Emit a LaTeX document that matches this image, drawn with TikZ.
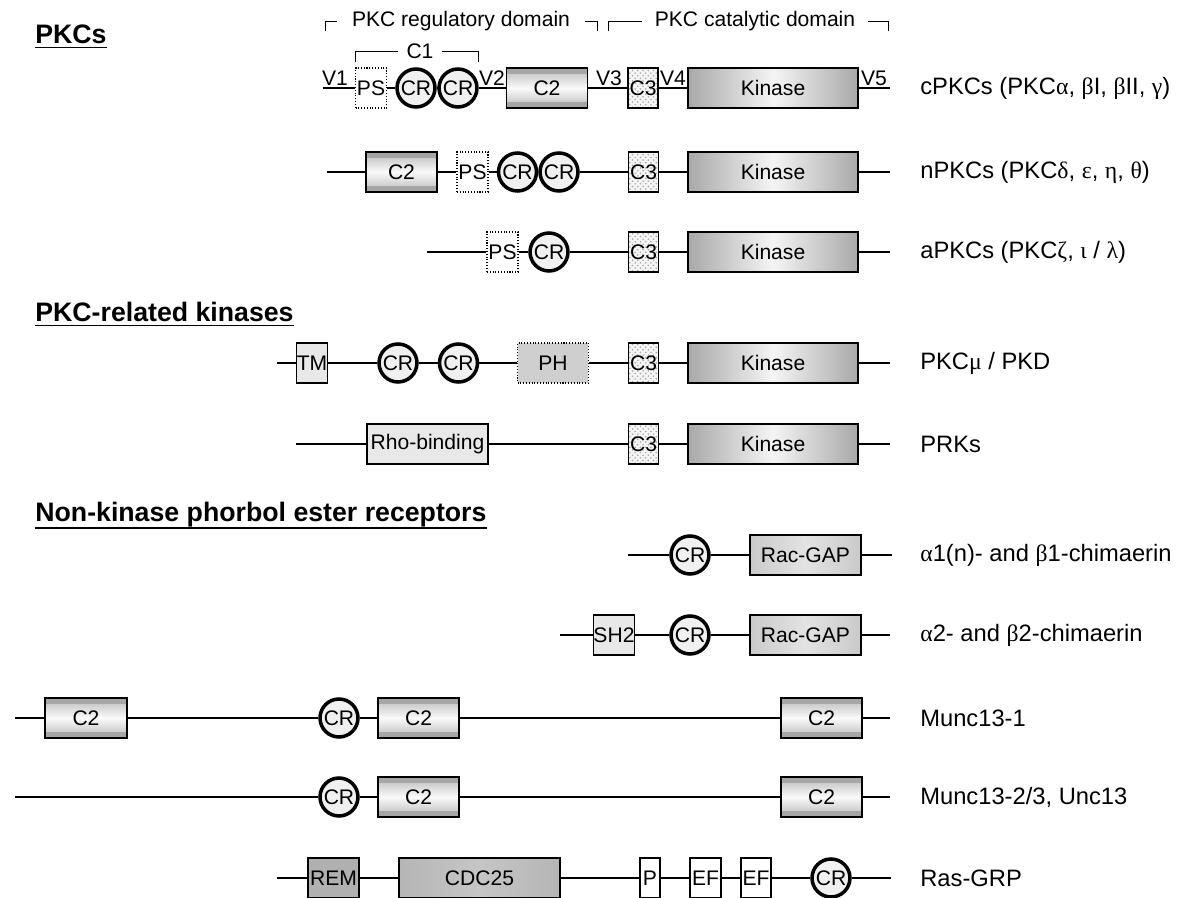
\documentclass[tikz,border=0pt]{standalone}
\usepackage{fontspec}
\setmainfont{Liberation Sans}
\newfontfamily\grk{Liberation Serif}
\usetikzlibrary{patterns}
\newcommand\boxfont{\fontsize{12}{14}\selectfont}
\newcommand\lblfont{\fontsize{13.5}{16}\selectfont}
\newcommand\hdrfont{\fontsize{15.2}{18}\selectfont\bfseries}
\tikzset{bb/.style={line width=0.7pt},
  dom/.style={draw, line width=0.6pt, inner sep=0pt, minimum height=0.8cm, font=\boxfont},
  c2dom/.style={dom, minimum width=1.62cm, top color=gray!55, bottom color=gray!55, middle color=gray!4,
    path picture={\fill[gray!70] (path picture bounding box.north west) rectangle ([yshift=-0.12cm]path picture bounding box.north east);
      \fill[gray!70] (path picture bounding box.south west) rectangle ([yshift=0.12cm]path picture bounding box.south east);}},
  kin/.style={dom, minimum width=3.4cm, left color=gray!68, right color=gray!68, middle color=gray!8},
  c3dom/.style={dom, minimum width=0.6cm, preaction={fill=gray!8}, pattern=crosshatch dots, pattern color=gray!70},
  psdom/.style={dom, minimum width=0.62cm, fill=white, densely dotted},
  phdom/.style={dom, minimum width=1.42cm, fill=gray!38, densely dotted},
  litedom/.style={dom, fill=gray!18},
  gapdom/.style={dom, minimum width=2.22cm, left color=gray!42, right color=gray!42, middle color=gray!22},
  remdom/.style={dom, fill=gray!62},
  cdcdom/.style={dom, left color=gray!58, right color=gray!58, middle color=gray!45},
  wdom/.style={dom, fill=white},
  crc/.style={circle, draw, line width=2pt, fill=gray!12, minimum size=0.76cm, inner sep=0pt, font=\boxfont},
  vtag/.style={font=\boxfont, anchor=base, inner sep=0pt},
  lbl/.style={font=\lblfont, anchor=west, inner sep=0pt},
  hdr/.style={font=\hdrfont, anchor=base west, inner sep=0pt},
  uline/.style={line width=1.1pt}}
\begin{document}
\begin{tikzpicture}[x=0.02cm, y=-0.02cm]
  \useasboundingbox (0,0) rectangle (1181,898);
  % section headings
  \node[hdr] (hpkc) at (35,44) {PKCs};
  \draw[uline] ([yshift=-0.07cm]hpkc.base west) -- ([yshift=-0.07cm]hpkc.base east);
  \node[hdr] (hrel) at (35,322) {PKC-related kinases};
  \draw[uline] ([yshift=-0.07cm]hrel.base west) -- ([yshift=-0.07cm]hrel.base east);
  \node[hdr] (hnon) at (35,522) {Non-kinase phorbol ester receptors};
  \draw[uline] ([yshift=-0.12cm]hnon.base west) -- ([yshift=-0.12cm]hnon.base east);
  % domain brackets
  \node[font=\boxfont, inner xsep=0.3cm, inner ysep=0pt] (reg) at (461,21) {PKC regulatory domain};
  \coordinate (regL) at (325,31);
  \coordinate (regR) at (597,31);
  \draw (regL) |- (reg.west);
  \draw (reg.east) -| (regR);
  \node[font=\boxfont, inner xsep=0.24cm, inner ysep=0pt] (cat) at (755,21) {PKC catalytic domain};
  \coordinate (catL) at (608,31);
  \coordinate (catR) at (888,31);
  \draw (catL) |- (cat.west);
  \draw (cat.east) -| (catR);
  \node[font=\boxfont, inner xsep=0.16cm, inner ysep=0pt] (cone) at (420,51) {C1};
  \coordinate (coneL) at (355,62);
  \coordinate (coneR) at (478,62);
  \draw (coneL) |- (cone.west);
  \draw (cone.east) -| (coneR);
  % cPKCs
  \coordinate (cpS) at (323,88);
  \coordinate (cpE) at (890,88);
  \node[psdom] (cpps) at (371,88) {PS};
  \node[crc] (cpcr1) at (416,88) {CR};
  \node[crc] (cpcr2) at (458,88) {CR};
  \node[c2dom] (cpc2) at (547,88) {C2};
  \node[c3dom] (cpc3) at (643,88) {C3};
  \node[kin] (cpkin) at (773,88) {Kinase};
  \draw[bb] (cpS) -- (cpps) -- (cpcr1) -- (cpcr2) -- (cpc2) -- (cpc3) -- (cpkin) -- (cpE);
  \node[vtag] (v1) at (335,86) {V1};
  \node[vtag] (v2) at (492,86) {V2};
  \node[vtag] (v3) at (609,86) {V3};
  \node[vtag] (v4) at (673,86) {V4};
  \node[vtag] (v5) at (874,86) {V5};
  \node[lbl] (cplab) at (920,88) {cPKCs (PKC{\grk α}, {\grk β}I, {\grk β}II, {\grk γ})};
  % nPKCs
  \coordinate (npS) at (327,172);
  \coordinate (npE) at (890,172);
  \node[c2dom, minimum width=1.42cm] (npc2) at (401.5,172) {C2};
  \node[psdom] (npps) at (472.5,172) {PS};
  \node[crc] (npcr1) at (517.5,172) {CR};
  \node[crc] (npcr2) at (559,172) {CR};
  \node[c3dom] (npc3) at (643.5,172) {C3};
  \node[kin] (npkin) at (773,172) {Kinase};
  \draw[bb] (npS) -- (npc2) -- (npps) -- (npcr1) -- (npcr2) -- (npc3) -- (npkin) -- (npE);
  \node[lbl] (nplab) at (920,172) {nPKCs (PKC{\grk δ}, {\grk ε}, {\grk η}, {\grk θ})};
  % aPKCs
  \coordinate (apS) at (427,252);
  \coordinate (apE) at (890,252);
  \node[psdom] (apps) at (502.5,252) {PS};
  \node[crc] (apcr) at (549,252) {CR};
  \node[c3dom] (apc3) at (643.5,252) {C3};
  \node[kin] (apkin) at (773,252) {Kinase};
  \draw[bb] (apS) -- (apps) -- (apcr) -- (apc3) -- (apkin) -- (apE);
  \node[lbl] (aplab) at (920,252) {aPKCs (PKC{\grk ζ}, {\grk ι} / {\grk λ})};
  % PKCmu / PKD
  \coordinate (pkdS) at (277,363);
  \coordinate (pkdE) at (890,363);
  \node[litedom, minimum width=0.62cm] (pkdtm) at (312,363) {TM};
  \node[crc] (pkdcr1) at (398,363) {CR};
  \node[crc] (pkdcr2) at (458.5,363) {CR};
  \node[phdom] (pkdph) at (553,363) {PH};
  \node[c3dom] (pkdc3) at (643.5,363) {C3};
  \node[kin] (pkdkin) at (773,363) {Kinase};
  \draw[bb] (pkdS) -- (pkdtm) -- (pkdcr1) -- (pkdcr2) -- (pkdph) -- (pkdc3) -- (pkdkin) -- (pkdE);
  \node[lbl] (pkdlab) at (920,363) {PKC{\grk μ} / PKD};
  % PRKs
  \coordinate (prkS) at (296,444);
  \coordinate (prkE) at (890,444);
  \node[litedom, minimum width=2.42cm] (prkrho) at (427.5,444) {Rho-binding};
  \node[c3dom] (prkc3) at (643.5,444) {C3};
  \node[kin] (prkkin) at (773,444) {Kinase};
  \draw[bb] (prkS) -- (prkrho) -- (prkc3) -- (prkkin) -- (prkE);
  \node[lbl] (prklab) at (920,444) {PRKs};
  % alpha1/beta1-chimaerin
  \coordinate (chaS) at (628,555);
  \coordinate (chaE) at (892,555);
  \node[crc] (chacr) at (690,555) {CR};
  \node[gapdom] (chagap) at (805.5,555) {Rac-GAP};
  \draw[bb] (chaS) -- (chacr) -- (chagap) -- (chaE);
  \node[lbl] (chalab) at (920,555) {{\grk α}1(n)- and {\grk β}1-chimaerin};
  % alpha2/beta2-chimaerin
  \coordinate (chbS) at (560,635);
  \coordinate (chbE) at (890,635);
  \node[litedom, minimum width=0.64cm] (chbsh2) at (614,635) {SH2};
  \node[crc] (chbcr) at (690,635) {CR};
  \node[gapdom] (chbgap) at (805.5,635) {Rac-GAP};
  \draw[bb] (chbS) -- (chbsh2) -- (chbcr) -- (chbgap) -- (chbE);
  \node[lbl] (chblab) at (920,635) {{\grk α}2- and {\grk β}2-chimaerin};
  % Munc13-1
  \coordinate (muaS) at (15,718);
  \coordinate (muaE) at (890,718);
  \node[c2dom, minimum width=1.64cm] (muac2a) at (86,718) {C2};
  \node[crc] (muacr) at (339,718) {CR};
  \node[c2dom] (muac2b) at (418.5,718) {C2};
  \node[c2dom] (muac2c) at (821.5,718) {C2};
  \draw[bb] (muaS) -- (muac2a) -- (muacr) -- (muac2b) -- (muac2c) -- (muaE);
  \node[lbl] (mualab) at (920,718) {Munc13-1};
  % Munc13-2/3, Unc13
  \coordinate (mubS) at (15,797);
  \coordinate (mubE) at (890,797);
  \node[crc] (mubcr) at (339,797) {CR};
  \node[c2dom] (mubc2b) at (418.5,797) {C2};
  \node[c2dom] (mubc2c) at (821.5,797) {C2};
  \draw[bb] (mubS) -- (mubcr) -- (mubc2b) -- (mubc2c) -- (mubE);
  \node[lbl] (mublab) at (920,797) {Munc13-2/3, Unc13};
  % Ras-GRP
  \coordinate (rgS) at (277,878);
  \coordinate (rgE) at (891,878);
  \node[remdom, minimum width=1.02cm] (rgrem) at (333.5,878) {REM};
  \node[cdcdom, minimum width=3.22cm] (rgcdc) at (479.5,878) {CDC25};
  \node[wdom, minimum width=0.4cm] (rgp) at (650,878) {P};
  \node[wdom, minimum width=0.62cm] (rgef1) at (705.5,878) {EF};
  \node[wdom, minimum width=0.6cm] (rgef2) at (756,878) {EF};
  \node[crc] (rgcr) at (831,878) {CR};
  \draw[bb] (rgS) -- (rgrem) -- (rgcdc) -- (rgp) -- (rgef1) -- (rgef2) -- (rgcr) -- (rgE);
  \node[lbl] (rglab) at (920,878) {Ras-GRP};
\end{tikzpicture}
\end{document}
